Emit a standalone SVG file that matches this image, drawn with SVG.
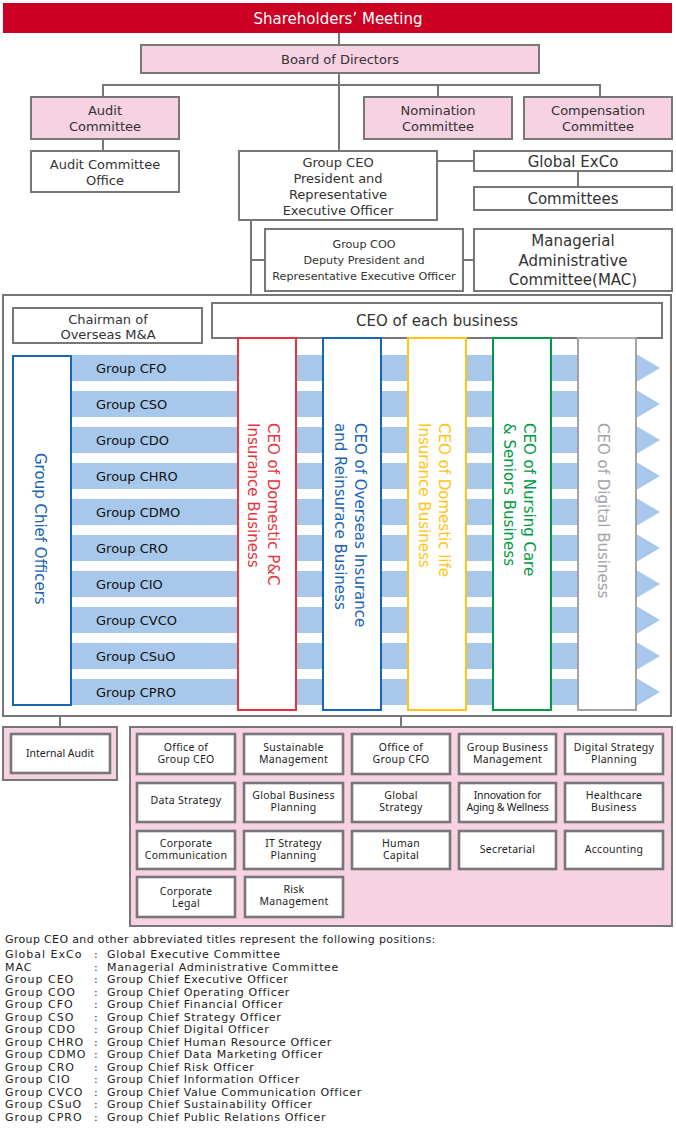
<svg xmlns="http://www.w3.org/2000/svg" width="676" height="1132" viewBox="0 0 676 1132">
<defs>
<style>
text{font-family:"DejaVu Sans","Noto Sans",sans-serif;fill:#333;}
.box{fill:#fff;stroke:#777;stroke-width:2;}
.pink{fill:#f6d2e2;stroke:#777;stroke-width:2;}
.sb{fill:#fff;stroke:#777;stroke-width:2.6;}
.ln{stroke:#777;stroke-width:2;fill:none;}
.t14{font-size:13px;text-anchor:middle;}
.t12{font-size:11.2px;text-anchor:middle;}
.t16{font-size:15px;text-anchor:middle;}
.bar{fill:#a7c8ea;}
.bl{font-size:13px;fill:#111;}
.sm{font-family:"Noto Sans","DejaVu Sans",sans-serif;font-size:10.5px;text-anchor:middle;letter-spacing:0.3px;fill:#222;}
.vt{font-size:15px;}
.lg{font-size:11px;fill:#222;letter-spacing:0.65px;}
.lb{font-size:11px;fill:#222;letter-spacing:1px;}
</style>
<polygon id="bar" points="72,0 638,0 660,13 638,26 72,26"/>
</defs>

<g id="connectors">
<line class="ln" x1="339" y1="32" x2="339" y2="45"/>
<line class="ln" x1="339" y1="73" x2="339" y2="151"/>
<polyline class="ln" points="103,97 103,85 600,85 600,97"/>
<line class="ln" x1="438" y1="85" x2="438" y2="97"/>
<line class="ln" x1="103" y1="139" x2="103" y2="151"/>
<line class="ln" x1="437" y1="161" x2="474" y2="161"/>
<line class="ln" x1="578" y1="171" x2="578" y2="187"/>
<line class="ln" x1="251" y1="220" x2="251" y2="295"/>
<line class="ln" x1="251" y1="260" x2="265" y2="260"/>
<line class="ln" x1="463" y1="260" x2="474" y2="260"/>
<line class="ln" x1="60" y1="716" x2="60" y2="727"/>
<line class="ln" x1="401" y1="716" x2="401" y2="727"/>
</g>

<g id="shareholders">
<rect x="3" y="3" width="669" height="30" fill="#cc0022"/>
<text x="338" y="24" class="t16" style="fill:#fff">Shareholders’ Meeting</text>
</g>

<g id="board">
<rect class="pink" x="141" y="45" width="398" height="28"/>
<text x="340" y="64" class="t14">Board of Directors</text>
</g>

<g id="audit-committee">
<rect class="pink" x="31" y="97" width="148" height="42"/>
<text x="105" y="115" class="t14">Audit</text>
<text x="105" y="131" class="t14">Committee</text>
</g>

<g id="nomination">
<rect class="pink" x="364" y="97" width="148" height="42"/>
<text x="438" y="115" class="t14">Nomination</text>
<text x="438" y="131" class="t14">Committee</text>
</g>

<g id="compensation">
<rect class="pink" x="524" y="97" width="148" height="42"/>
<text x="598" y="115" class="t14">Compensation</text>
<text x="598" y="131" class="t14">Committee</text>
</g>

<g id="audit-office">
<rect class="box" x="31" y="151" width="148" height="41"/>
<text x="105" y="169" class="t14">Audit Committee</text>
<text x="105" y="185" class="t14">Office</text>
</g>

<g id="group-ceo">
<rect class="box" x="239" y="151" width="198" height="69"/>
<text x="338" y="167" class="t14">Group CEO</text>
<text x="338" y="183" class="t14">President and</text>
<text x="338" y="199" class="t14">Representative</text>
<text x="338" y="215" class="t14">Executive Officer</text>
</g>

<g id="global-exco">
<rect class="box" x="474" y="151" width="198" height="20"/>
<text x="573" y="166.5" class="t16">Global ExCo</text>
</g>

<g id="committees">
<rect class="box" x="474" y="187" width="198" height="23"/>
<text x="573" y="204" class="t16">Committees</text>
</g>

<g id="group-coo">
<rect class="box" x="265" y="229" width="198" height="62"/>
<text x="364" y="248" class="t12">Group COO</text>
<text x="364" y="264" class="t12">Deputy President and</text>
<text x="364" y="280" class="t12">Representative Executive Officer</text>
</g>

<g id="mac">
<rect class="box" x="474" y="229" width="198" height="62"/>
<text x="573" y="246" class="t16">Managerial</text>
<text x="573" y="266" class="t16">Administrative</text>
<text x="573" y="285" class="t16">Committee(MAC)</text>
</g>

<g id="executive-area">
<rect class="box" x="3" y="295" width="668" height="421"/>
</g>

<g id="chairman">
<rect class="box" x="13" y="308" width="189" height="35"/>
<text x="108" y="324" class="t14">Chairman of</text>
<text x="108" y="339" class="t14">Overseas M&amp;A</text>
</g>

<g id="ceo-each">
<rect class="box" x="212" y="303" width="450" height="35"/>
<text x="437" y="326" class="t16">CEO of each business</text>
</g>

<g id="officer-bars">
<use href="#bar" class="bar" y="355"/>
<use href="#bar" class="bar" y="391"/>
<use href="#bar" class="bar" y="427"/>
<use href="#bar" class="bar" y="463"/>
<use href="#bar" class="bar" y="499"/>
<use href="#bar" class="bar" y="535"/>
<use href="#bar" class="bar" y="571"/>
<use href="#bar" class="bar" y="607"/>
<use href="#bar" class="bar" y="643"/>
<use href="#bar" class="bar" y="679"/>
<text x="96" y="373" class="bl">Group CFO</text>
<text x="96" y="409" class="bl">Group CSO</text>
<text x="96" y="445" class="bl">Group CDO</text>
<text x="96" y="481" class="bl">Group CHRO</text>
<text x="96" y="517" class="bl">Group CDMO</text>
<text x="96" y="553" class="bl">Group CRO</text>
<text x="96" y="589" class="bl">Group CIO</text>
<text x="96" y="625" class="bl">Group CVCO</text>
<text x="96" y="661" class="bl">Group CSuO</text>
<text x="96" y="697" class="bl">Group CPRO</text>
</g>

<g id="group-chief-officers">
<rect x="13" y="356" width="58" height="349" fill="#fff" stroke="#1a64b4" stroke-width="2"/>
<text class="vt" transform="translate(35,453) rotate(90)" style="fill:#1a64b4">Group Chief Officers</text>
</g>

<g id="ceo-domestic-pc">
<rect x="238" y="338" width="58" height="372" fill="#fff" stroke="#e8333c" stroke-width="2"/>
<text class="vt" transform="translate(268,423) rotate(90)" style="fill:#e8333c"><tspan x="0" y="0">CEO of Domestic P&amp;C</tspan><tspan x="0" y="20">Insurance Business</tspan></text>
</g>

<g id="ceo-overseas">
<rect x="323" y="338" width="58" height="372" fill="#fff" stroke="#1a64b4" stroke-width="2"/>
<text class="vt" transform="translate(355,423) rotate(90)" style="fill:#1a64b4"><tspan x="0" y="0">CEO of Overseas Insurance</tspan><tspan x="0" y="20">and Reinsurace Business</tspan></text>
</g>

<g id="ceo-domestic-life">
<rect x="408" y="338" width="58" height="372" fill="#fff" stroke="#ffc414" stroke-width="2"/>
<text class="vt" transform="translate(439,423) rotate(90)" style="fill:#ffc414"><tspan x="0" y="0">CEO of Domestic life</tspan><tspan x="0" y="20">Insurance Business</tspan></text>
</g>

<g id="ceo-nursing">
<rect x="493" y="338" width="58" height="372" fill="#fff" stroke="#009a44" stroke-width="2"/>
<text class="vt" transform="translate(524,423) rotate(90)" style="fill:#009a44"><tspan x="0" y="0">CEO of Nursing Care</tspan><tspan x="0" y="20">&amp; Seniors Business</tspan></text>
</g>

<g id="ceo-digital">
<rect x="578" y="338" width="58" height="372" fill="#fff" stroke="#a3a3aa" stroke-width="2"/>
<text class="vt" transform="translate(598,423) rotate(90)" style="fill:#a3a3aa">CEO of Digital Business</text>
</g>

<g id="internal-audit">
<rect class="pink" x="3" y="727" width="114" height="53"/>
<rect class="sb" x="11" y="734" width="99" height="39"/>
<text x="60" y="757" class="sm" style="letter-spacing:0">Internal Audit</text>
</g>

<g id="departments">
<rect class="pink" x="130" y="727" width="542" height="199"/>
</g>

<g id="dept-office-ceo"><rect class="sb" x="137" y="734" width="98" height="40"/><text x="186" y="751" class="sm">Office of</text><text x="186" y="763" class="sm">Group CEO</text></g>
<g id="dept-sustainable"><rect class="sb" x="244" y="734" width="99" height="40"/><text x="293.5" y="751" class="sm">Sustainable</text><text x="293.5" y="763" class="sm">Management</text></g>
<g id="dept-office-cfo"><rect class="sb" x="352" y="734" width="98" height="40"/><text x="401" y="751" class="sm">Office of</text><text x="401" y="763" class="sm">Group  CFO</text></g>
<g id="dept-group-business"><rect class="sb" x="459" y="734" width="97" height="40"/><text x="507.5" y="751" class="sm">Group Business</text><text x="507.5" y="763" class="sm">Management</text></g>
<g id="dept-digital-strategy"><rect class="sb" x="565" y="734" width="98" height="40"/><text x="614" y="751" class="sm">Digital Strategy</text><text x="614" y="763" class="sm">Planning</text></g>

<g id="dept-data-strategy"><rect class="sb" x="137" y="783" width="98" height="39"/><text x="186" y="804" class="sm">Data Strategy</text></g>
<g id="dept-global-business"><rect class="sb" x="244" y="783" width="99" height="39"/><text x="293.5" y="799" class="sm">Global Business</text><text x="293.5" y="811" class="sm">Planning</text></g>
<g id="dept-global-strategy"><rect class="sb" x="352" y="783" width="98" height="39"/><text x="401" y="799" class="sm">Global</text><text x="401" y="811" class="sm">Strategy</text></g>
<g id="dept-innovation"><rect class="sb" x="459" y="783" width="97" height="39"/><text x="507.5" y="799" class="sm" style="letter-spacing:-0.2px">Innovation for</text><text x="507.5" y="811" class="sm" style="letter-spacing:-0.2px">Aging &amp; Wellness</text></g>
<g id="dept-healthcare"><rect class="sb" x="565" y="783" width="98" height="39"/><text x="614" y="799" class="sm">Healthcare</text><text x="614" y="811" class="sm">Business</text></g>

<g id="dept-corp-comm"><rect class="sb" x="137" y="831" width="98" height="38"/><text x="186" y="847" class="sm">Corporate</text><text x="186" y="859" class="sm">Communication</text></g>
<g id="dept-it-strategy"><rect class="sb" x="244" y="831" width="99" height="38"/><text x="293.5" y="847" class="sm">IT Strategy</text><text x="293.5" y="859" class="sm">Planning</text></g>
<g id="dept-human-capital"><rect class="sb" x="352" y="831" width="98" height="38"/><text x="401" y="847" class="sm">Human</text><text x="401" y="859" class="sm">Capital</text></g>
<g id="dept-secretarial"><rect class="sb" x="459" y="831" width="97" height="38"/><text x="507.5" y="853" class="sm">Secretarial</text></g>
<g id="dept-accounting"><rect class="sb" x="565" y="831" width="98" height="38"/><text x="614" y="853" class="sm">Accounting</text></g>

<g id="dept-corp-legal"><rect class="sb" x="137" y="877" width="98" height="40"/><text x="186" y="895" class="sm">Corporate</text><text x="186" y="907" class="sm">Legal</text></g>
<g id="dept-risk"><rect class="sb" x="245" y="877" width="98" height="40"/><text x="294" y="893" class="sm">Risk</text><text x="294" y="905" class="sm">Management</text></g>

<g id="legend">
<text x="5" y="943" class="lg" style="letter-spacing:0.35px">Group CEO and other abbreviated titles represent the following positions:</text>
<text x="5" y="958" class="lb">Global ExCo</text><text x="94" y="958" class="lg">:</text><text x="107" y="958" class="lg">Global Executive Committee</text>
<text x="5" y="970.5" class="lb">MAC</text><text x="94" y="970.5" class="lg">:</text><text x="107" y="970.5" class="lg">Managerial Administrative Committee</text>
<text x="5" y="983" class="lb">Group CEO</text><text x="94" y="983" class="lg">:</text><text x="107" y="983" class="lg">Group Chief Executive Officer</text>
<text x="5" y="995.5" class="lb">Group COO</text><text x="94" y="995.5" class="lg">:</text><text x="107" y="995.5" class="lg">Group Chief Operating Officer</text>
<text x="5" y="1008" class="lb">Group CFO</text><text x="94" y="1008" class="lg">:</text><text x="107" y="1008" class="lg">Group Chief Financial Officer</text>
<text x="5" y="1020.5" class="lb">Group CSO</text><text x="94" y="1020.5" class="lg">:</text><text x="107" y="1020.5" class="lg">Group Chief Strategy Officer</text>
<text x="5" y="1033" class="lb">Group CDO</text><text x="94" y="1033" class="lg">:</text><text x="107" y="1033" class="lg">Group Chief Digital Officer</text>
<text x="5" y="1045.5" class="lb">Group CHRO</text><text x="94" y="1045.5" class="lg">:</text><text x="107" y="1045.5" class="lg">Group Chief Human Resource Officer</text>
<text x="5" y="1058" class="lb">Group CDMO</text><text x="94" y="1058" class="lg">:</text><text x="107" y="1058" class="lg">Group Chief Data Marketing Officer</text>
<text x="5" y="1070.5" class="lb">Group CRO</text><text x="94" y="1070.5" class="lg">:</text><text x="107" y="1070.5" class="lg">Group Chief Risk Officer</text>
<text x="5" y="1083" class="lb">Group CIO</text><text x="94" y="1083" class="lg">:</text><text x="107" y="1083" class="lg">Group Chief Information Officer</text>
<text x="5" y="1095.5" class="lb">Group CVCO</text><text x="94" y="1095.5" class="lg">:</text><text x="107" y="1095.5" class="lg">Group Chief Value Communication Officer</text>
<text x="5" y="1108" class="lb">Group CSuO</text><text x="94" y="1108" class="lg">:</text><text x="107" y="1108" class="lg">Group Chief Sustainability Officer</text>
<text x="5" y="1120.5" class="lb">Group CPRO</text><text x="94" y="1120.5" class="lg">:</text><text x="107" y="1120.5" class="lg">Group Chief Public Relations Officer</text>
</g>
</svg>
